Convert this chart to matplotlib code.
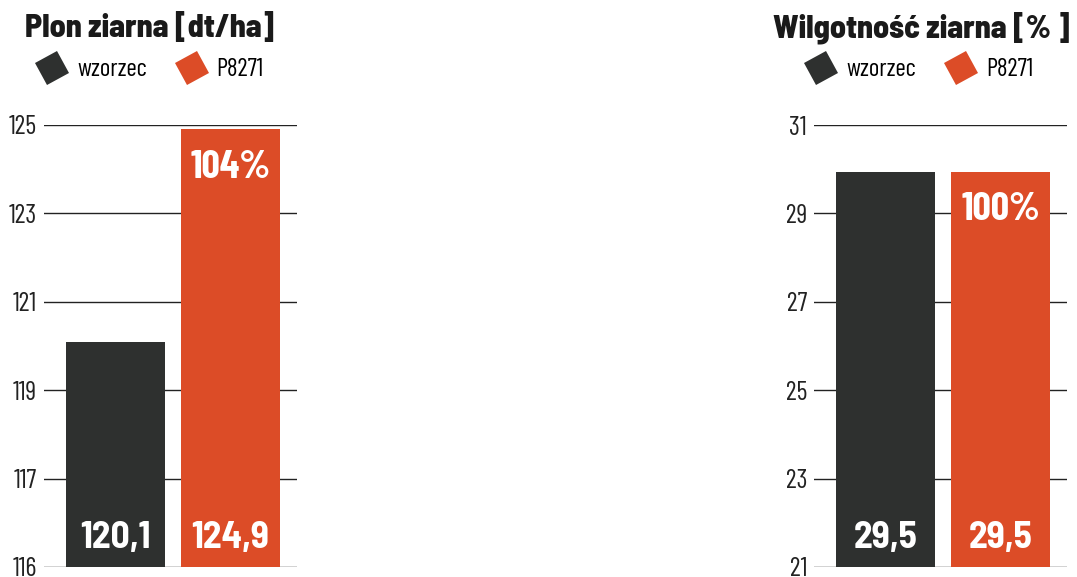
import matplotlib
matplotlib.use("Agg")
import matplotlib.pyplot as plt
from matplotlib.lines import Line2D
from matplotlib.markers import MarkerStyle
from matplotlib.transforms import Affine2D

# data
series = ["wzorzec", "P8271"]
colors = ["#2e302f", "#dc4c27"]

yield_values = [120.1, 124.9]
yield_labels = ["120,1", "124,9"]
yield_pct = "104%"
yield_ticks = [115, 117, 119, 121, 123, 125]
yield_ticklabels = ["116", "117", "119", "121", "123", "125"]

moist_values = [29.93, 29.93]
moist_labels = ["29,5", "29,5"]
moist_pct = "100%"
moist_ticks = [21, 23, 25, 27, 29, 31]
moist_ticklabels = ["21", "23", "25", "27", "29", "31"]

plt.rcParams["font.family"] = ["Barlow Condensed", "DejaVu Sans"]
SEMI = ["Barlow Semi Condensed", "DejaVu Sans"]

W, H = 1077, 577
fig = plt.figure(figsize=(W / 100, H / 100), dpi=100)


def px_axes(x0, x1, y_top, y_bot):
    return fig.add_axes([x0 / W, 1 - y_bot / H, (x1 - x0) / W, (y_bot - y_top) / H])


def panel(ax, values, labels, pct, ticks, ticklabels, ylim):
    x = list(range(len(values)))
    ax.bar(x, [v - ylim[0] for v in values], bottom=ylim[0], width=0.861,
           color=colors, zorder=2)
    ax.set_xlim(-0.622, 1.578)
    ax.set_ylim(*ylim)
    ax.set_yticks(ticks)
    ax.set_yticklabels(ticklabels, fontsize=19, color="#222222")
    ax.set_xticks([])
    ax.tick_params(axis="y", length=0, pad=5)
    ax.grid(True, axis="y", color="#222222", linewidth=1.0, zorder=0)
    for s in ax.spines.values():
        s.set_visible(False)
    span = ylim[1] - ylim[0]
    for xi, lab in zip(x, labels):
        ax.text(xi, ylim[0] + span * 0.043, lab, ha="center", va="baseline",
                color="white", fontsize=27, fontweight=700, family=SEMI, zorder=3)
    ax.text(x[-1], values[-1] - span * 0.109, pct, ha="center", va="baseline",
            color="white", fontsize=29, fontweight=700, zorder=3)


ax1 = px_axes(44, 297, 125, 567)
panel(ax1, yield_values, yield_labels, yield_pct, yield_ticks, yield_ticklabels, (115, 125))

ax2 = px_axes(814, 1067, 125, 567)
panel(ax2, moist_values, moist_labels, moist_pct, moist_ticks, moist_ticklabels, (21, 31))

fig.text(25 / W, 1 - 28 / H, "Plon ziarna [dt/ha]", fontsize=23, fontweight=800,
         family=SEMI, ha="left", va="center", color="#1a1a1a")
fig.text(773 / W, 1 - 28 / H, "Wilgotność ziarna [% ]", fontsize=23, fontweight=800,
         family=SEMI, ha="left", va="center", color="#1a1a1a")

marker = MarkerStyle("s", transform=Affine2D().rotate_deg(30))
handles = [Line2D([], [], linestyle="none", marker=marker, markersize=18,
                  markerfacecolor=c, markeredgewidth=0, label=s)
           for s, c in zip(series, colors)]
for x_left in (37, 806):
    fig.legend(handles=handles, loc="center left",
               bbox_to_anchor=(x_left / W, 1 - 70 / H), ncol=2, frameon=False,
               fontsize=18, borderpad=0, borderaxespad=0, handlelength=1.2,
               handletextpad=0.4, columnspacing=1.2)

fig.savefig("out.png", dpi=100)
